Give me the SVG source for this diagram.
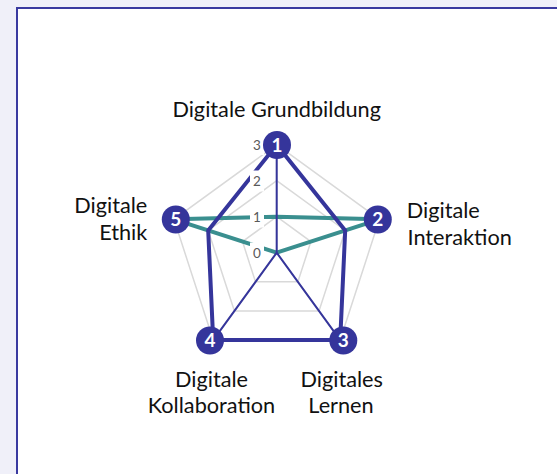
<svg xmlns="http://www.w3.org/2000/svg" width="557" height="474" viewBox="0 0 557 474">
<style>
.lbl{font-family:Lato,"Liberation Sans",sans-serif;font-size:21.7px;fill:#111}
.tick{font-family:Lato,"Liberation Sans",sans-serif;font-size:13.5px;fill:#595959;text-anchor:middle}
.grid{fill:none;stroke:#d9d9d9;stroke-width:1.5}
.node circle{fill:#35359b}
.node text{font-family:Lato,"Liberation Sans",sans-serif;font-size:19px;font-weight:bold;fill:#fff;text-anchor:middle}
</style>
<rect x="0" y="0" width="557" height="474" fill="#f0f0f9"/>
<rect x="17" y="8" width="600" height="500" fill="#fff" stroke="#3a3aa0" stroke-width="2"/>
<g id="grid">
<polygon class="grid" points="276.7,144.7 379.4,219.3 340.2,340.1 213.2,340.1 174,219.3"/>
<polygon class="grid" points="276.7,180.7 345.2,230.5 319,310.9 234.4,310.9 208.2,230.5"/>
<polygon class="grid" points="276.7,216.7 310.9,241.6 297.9,281.8 255.5,281.8 242.5,241.6"/>
<path class="grid" d="M276.7,252.7L276.7,144.7M276.7,252.7L379.4,219.3M276.7,252.7L340.2,340.1M276.7,252.7L213.2,340.1M276.7,252.7L174,219.3"/>
</g>
<g id="connectors" fill="none" stroke-linejoin="round">
<polygon points="276.7,216.7 379.4,219.3 276.7,252.7 276.7,252.7 174,219.3" stroke="#3a8f8f" stroke-width="4"/>
<polygon points="276.7,144.7 345.2,230.5 340.2,340.1 213.2,340.1 208.2,230.5" stroke="#35359b" stroke-width="4"/>
<polygon points="276.7,144.7 276.7,252.7 340.2,340.1 213.2,340.1 276.7,252.7" stroke="#35359b" stroke-width="2"/>
</g>
<g id="ticks">
<rect x="250" y="134" width="14" height="21" fill="#fff"/>
<text class="tick" x="257" y="149.5">3</text>
<rect x="250" y="170.5" width="14" height="21" fill="#fff"/>
<text class="tick" x="257" y="186">2</text>
<rect x="250" y="206.5" width="14" height="21" fill="#fff"/>
<text class="tick" x="257" y="222">1</text>
<rect x="250" y="242.5" width="14" height="21" fill="#fff"/>
<text class="tick" x="257" y="258">0</text>
</g>
<g id="node1" class="node"><circle cx="277" cy="145" r="14"/><text x="277" y="151.5">1</text></g>
<g id="node2" class="node"><circle cx="377.8" cy="219.5" r="14"/><text x="377.8" y="226">2</text></g>
<g id="node3" class="node"><circle cx="343.3" cy="340.5" r="14"/><text x="343.3" y="347">3</text></g>
<g id="node4" class="node"><circle cx="210" cy="340.5" r="14"/><text x="210" y="347">4</text></g>
<g id="node5" class="node"><circle cx="175.8" cy="219.5" r="14"/><text x="175.8" y="226">5</text></g>
<g id="labels">
<text class="lbl" x="276.7" y="116.5" text-anchor="middle">Digitale Grundbildung</text>
<text class="lbl" x="406.7" y="218.3">Digitale</text>
<text class="lbl" x="407.5" y="245">Interaktion</text>
<text class="lbl" x="147.3" y="212.7" text-anchor="end">Digitale</text>
<text class="lbl" x="147.3" y="240" text-anchor="end">Ethik</text>
<text class="lbl" x="211.5" y="386.7" text-anchor="middle">Digitale</text>
<text class="lbl" x="211.5" y="413" text-anchor="middle">Kollaboration</text>
<text class="lbl" x="341.7" y="386.7" text-anchor="middle">Digitales</text>
<text class="lbl" x="341" y="413" text-anchor="middle">Lernen</text>
</g>
</svg>
